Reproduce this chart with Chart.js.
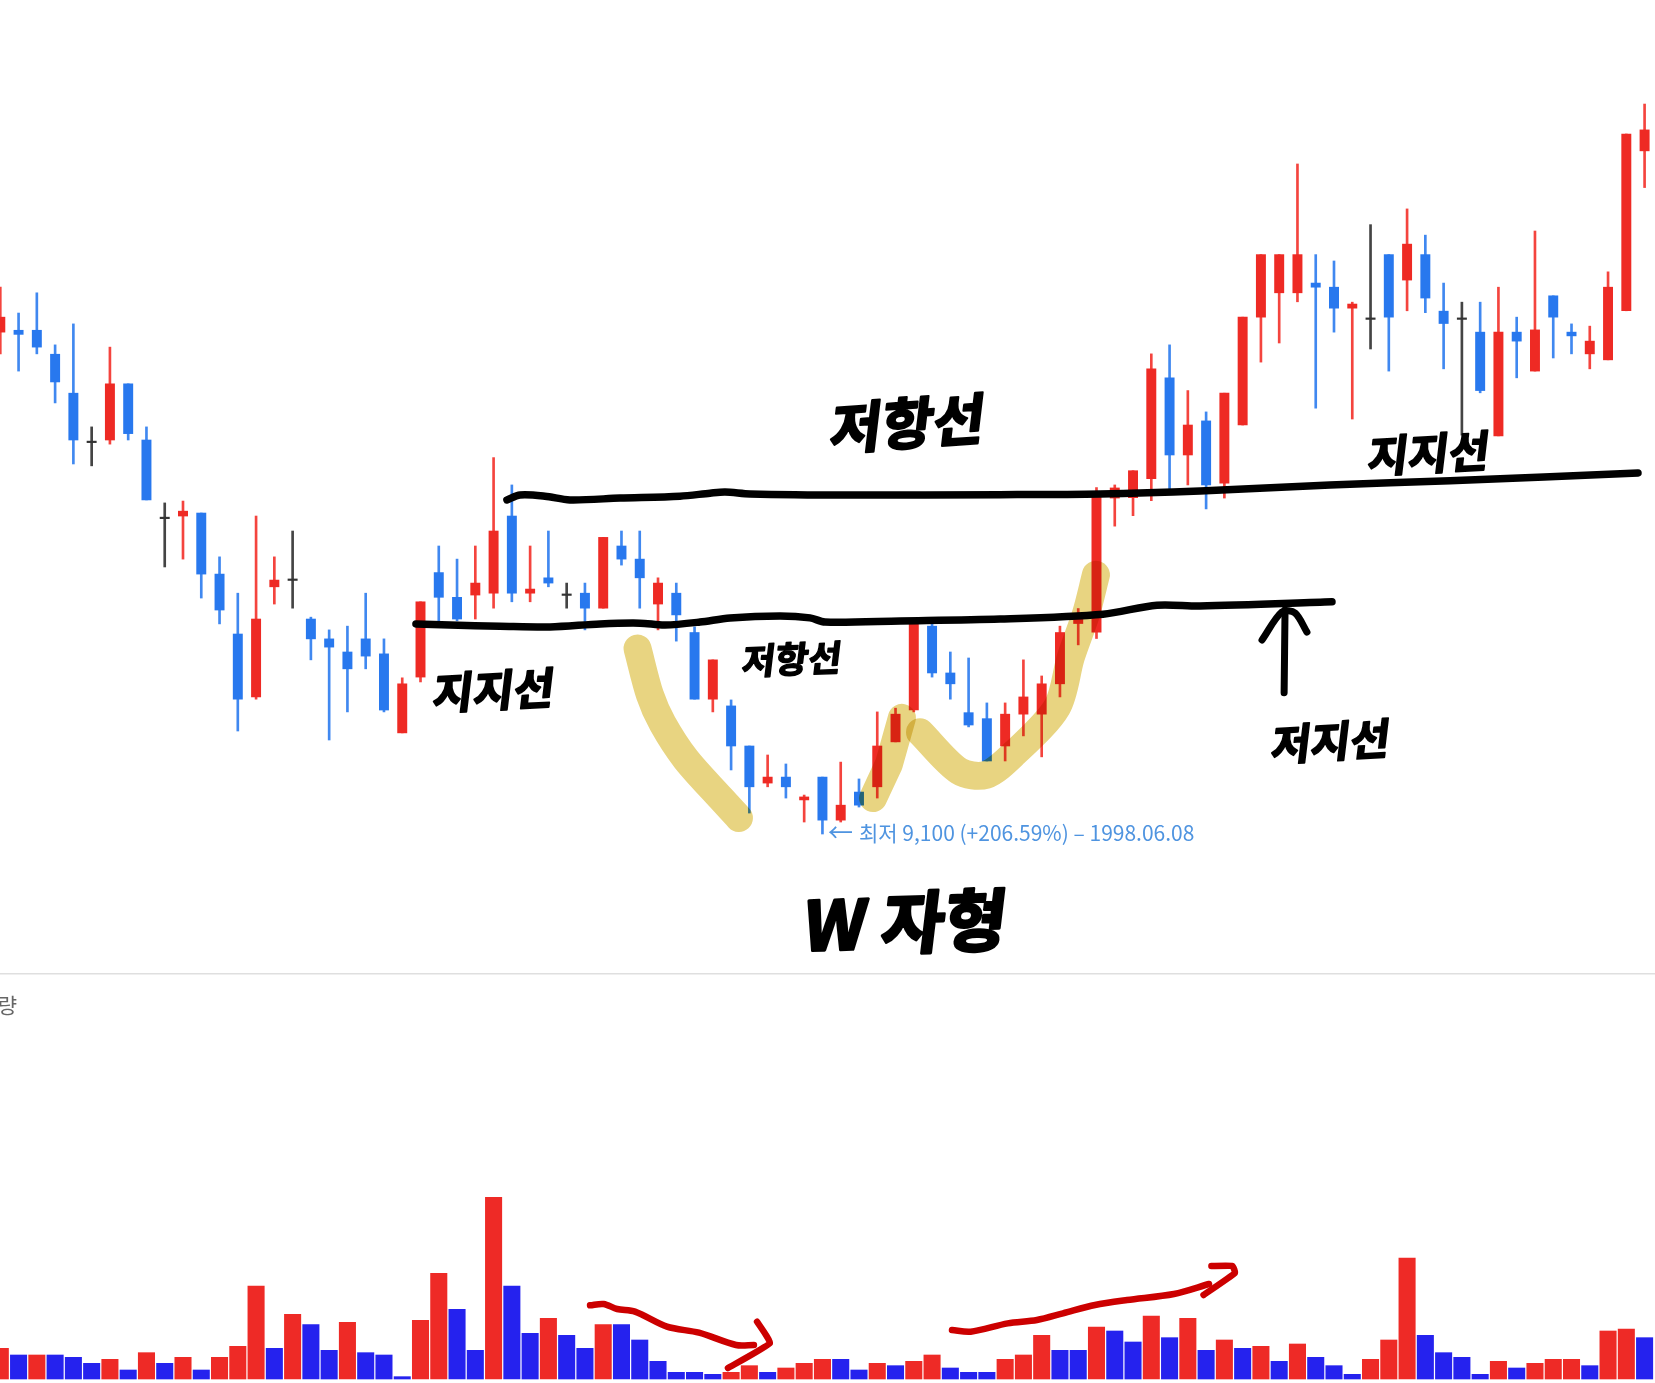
<!DOCTYPE html>
<html lang="ko">
<head>
<meta charset="utf-8">
<title>W 자형 차트</title>
<script src="https://cdn.jsdelivr.net/npm/chart.js@4/dist/chart.umd.min.js"></script>
<style>html,body{margin:0;padding:0;background:#fff;overflow:hidden}canvas{display:block}</style>
</head>
<body>
<canvas id="c" width="1655" height="1383"></canvas>
<script>
// Daily candles (won).
const opens = [22500,22550,22550,21910,20870,19590,19620,21120,19620,17560,17590,17670,16040,14440,12760,15700,15910,14840,14310,13960,14310,13910,11800,13290,16080,15420,15480,15530,17590,15530,15940,15510,15530,15130,16790,16440,15240,15530,14480,12700,12520,11450,10460,10620,10010,10620,9470,10220,10360,11560,12410,14650,13400,12340,12180,11450,12300,12300,13110,14720,14490,18070,18080,18590,21280,19220,20130,18470,20020,22900,23550,23550,23810,23700,23140,22880,24570,23890,24570,23060,22880,22500,19730,22500,21460,23470,22500,21920,21760,23070,27340];
const closes = [22900,22440,22100,21170,19620,19590,21120,19790,18020,17560,17720,16040,15080,12700,14840,15880,15910,14310,14090,13510,13850,12410,13110,15300,15420,14840,15800,17190,15530,15640,15800,15510,15130,17020,16440,15940,15800,14950,12700,13750,11450,10360,10620,10360,10090,9470,9870,9870,11450,12300,14730,13400,13110,12010,11050,12300,12760,13110,14480,14920,18100,18340,18800,21520,19220,20020,18420,20870,22900,24570,24570,24570,23700,23140,23250,22880,22900,24850,23410,22730,22880,20940,22500,22260,22560,22900,22400,22260,23700,27790,27900];
const highs  = [23700,23010,23550,22160,22720,19970,22100,21120,19970,17940,17990,17670,16500,15530,17590,16500,17190,14890,14550,14650,15530,14310,13270,15300,16790,16440,16790,19150,18420,16790,17190,15800,15800,17020,17190,17190,15940,15800,14630,13750,12680,11450,11210,10970,10140,10620,11020,10570,12360,12460,14730,14710,13960,13800,12600,12600,13750,13320,14650,15120,18350,18420,18800,21920,22160,20940,20370,20870,22900,24570,24570,26990,24570,24400,23300,25370,24570,25790,25090,23810,23300,23300,23700,22900,25200,23470,22720,22660,24110,27790,28590];
const lows   = [21920,21460,21920,20610,18980,18930,19510,19620,18020,16230,16440,15400,14710,11850,12700,15240,15130,13750,11610,12360,13510,12360,11800,13160,14730,14790,14840,15130,15300,15300,15700,15130,14550,15130,16280,15130,14550,14250,12700,12360,10810,9660,10360,10060,9420,9100,9420,9820,10060,11560,12360,13290,12700,11960,11050,11050,11720,11160,12760,14150,14320,17320,17600,18000,18260,18420,17780,18070,20020,21700,22210,23310,20470,22500,20180,22050,21460,23070,23020,21520,19750,20880,19730,21280,21460,21810,21920,21520,21760,23070,26360];
const volumes = [92,72,72,72,65,47,59,27,79,47,65,27,65,98,279,92,194,163,86,170,79,72,7,176,317,209,86,545,279,137,182,131,92,163,163,117,53,20,20,14,20,40,20,33,47,59,59,27,47,40,53,72,33,20,20,59,72,131,86,86,156,144,111,189,124,182,86,117,92,98,53,105,65,40,14,59,117,363,131,79,65,14,53,33,47,59,59,40,144,150,124];
const volumeUp = "rbrbbbrbrbrbrrrbrbbrbbbrrbbrbbrbbrbbbbbbrrbrrrbbrbrrbbbrrrbbrbbrbrbrbrbrbbbrrrbbbbrbrrrbrrb";

// Hand-drawn overlay strokes: x = candle index, y = price or volume.
const resistX = [27.73,28.45,29.81,31.18,33.92,37.2,38.85,39.67,41.04,46.51,54.72,60.2,65.67,72.78,79.35,89.64];
const resistY = [18020,18150,18120,18020,18070,18120,18200,18230,18180,18150,18160,18180,18260,18420,18530,18740];
const supportX = [22.75,24.61,27.35,30.09,32.83,35.01,36.38,38.3,39.94,42.68,44.32,45.14,49.25,54.72,60.36,63.31,65.67,72.89];
const supportY = [14710,14680,14650,14630,14710,14730,14680,14760,14870,14920,14870,14760,14790,14840,14970,15210,15190,15300];
const shaftX = [70.27,70.32];
const shaftY = [12870,15080];
const headX = [69.06,70.15,70.87,71.52];
const headY = [14280,15030,15000,14490];
const markerAX = [34.88,35.56,36.25,37.52,39.45,40.43];
const markerAY = [14050,12810,12050,11100,10050,9530];
const markerBX = [47.77,48.64,49.35];
const markerBY = [10060,10970,12200];
const markerCX = [50.34,52.48,53.95,55.49,57.84,58.6,59.42,59.97];
const markerCY = [11820,10780,10680,11250,12490,13830,14970,16020];
const volDownX = [32.28,33.02,33.76,34.74,36.49,38.24,40.27,41.25];
const volDownY = [221,225,210,202,157,139,102,102];
const volDownHeadX = [41.42,42.13,39.83];
const volDownHeadY = [172,108,33];
const volUpX = [52.09,53.11,55.14,56.74,58.17,59.92,61.67,64.24,66.16];
const volUpY = [147,142,167,177,197,222,237,255,285];
const volUpHeadX = [66.29,67.45,67.58,65.86];
const volUpHeadY = [339,339,318,252];

const zip = (xs, ys) => xs.map((x, i) => ({x, y: ys[i]}));
const idx = opens.map((_, i) => i);
const RED = '#ee2a24', BLUE = '#2878ee', DARK = '#333333';
const bodyColor = idx.map(i => closes[i] > opens[i] ? RED : closes[i] < opens[i] ? BLUE : DARK);
const wickColor = idx.map(i => closes[i] > opens[i] ? '#f4443e' : closes[i] < opens[i] ? '#4088f0' : '#444444');

const stroke = (xs, ys, color, width, axis, order, extra) => Object.assign({
  type: 'line', data: zip(xs, ys), borderColor: color, borderWidth: width,
  borderCapStyle: 'round', borderJoinStyle: 'round', pointRadius: 0, tension: 0.3,
  yAxisID: axis, order, fill: false
}, extra || {});

const HAND = '"Noto Sans CJK KR", "Noto Sans", sans-serif';
const notes = [
  {t:'저항선', x:908,  y:423, size:56, rot:-0.07},
  {t:'지지선', x:494,  y:690, size:44, rot:-0.05},
  {t:'저항선', x:792,  y:659, size:36, rot:-0.04},
  {t:'W 자형', x:906,  y:922, size:68, rot:-0.03},
  {t:'지지선', x:1429, y:453, size:44, rot:-0.05},
  {t:'저지선', x:1331, y:741, size:43, rot:-0.06}
];

const paperPlugin = {
  id: 'paper',
  beforeDatasetsDraw(chart) {
    const c = chart.ctx;
    c.save();
    c.fillStyle = '#dfdfdf';
    c.fillRect(0, 973, 1655, 1.5);
    c.fillStyle = '#666666';
    c.font = '400 21px ' + HAND;
    c.textAlign = 'right';
    c.textBaseline = 'middle';
    c.fillText('거래량', 17, 1005);
    c.restore();
  },
  beforeDatasetDraw(chart, args) {
    if (chart.data.datasets[args.index].multiply) {
      chart.ctx.save();
      chart.ctx.globalCompositeOperation = 'multiply';
    }
  },
  afterDatasetDraw(chart, args) {
    if (chart.data.datasets[args.index].multiply) chart.ctx.restore();
  },
  afterDatasetsDraw(chart) {
    const c = chart.ctx;
    c.save();
    c.textAlign = 'left';
    c.textBaseline = 'middle';
    c.fillStyle = '#4f94e0';
    c.font = '400 25px ' + HAND;
    c.fillText('←', 828, 832);
    c.font = '400 21px ' + HAND;
    c.fillText('최저 9,100 (+206.59%) – 1998.06.08', 859, 833);
    c.textAlign = 'center';
    c.fillStyle = '#000';
    c.strokeStyle = '#000';
    c.lineJoin = 'round';
    for (const n of notes) {
      c.save();
      c.translate(n.x, n.y);
      c.transform(1, n.rot, -0.12, 1, 0, 0);
      c.font = '700 ' + n.size + 'px ' + HAND;
      c.lineWidth = Math.max(1.5, n.size / 24);
      c.strokeText(n.t, 0, 0);
      c.fillText(n.t, 0, 0);
      c.restore();
    }
    c.restore();
  }
};

new Chart(document.getElementById('c'), {
  type: 'bar',
  plugins: [paperPlugin],
  data: {
    datasets: [
      { label:'거래량', data: zip(idx, volumes), yAxisID:'vol', barThickness:16.4, order:9,
        backgroundColor: idx.map(i => volumeUp[i] === 'r' ? '#ee2a26' : '#2522ee') },
      { label:'고저', data: idx.map(i => ({x:i, y:[lows[i], highs[i]]})), yAxisID:'price', barThickness:2, order:8,
        backgroundColor: wickColor },
      { label:'시가·종가', data: idx.map(i => ({x:i, y:[opens[i], closes[i]]})), yAxisID:'price', barThickness:9.3, minBarLength:1.5, order:7,
        backgroundColor: bodyColor },
      stroke(markerAX, markerAY, '#e8d481', 28, 'price', 6, {multiply:true}),
      stroke(markerBX, markerBY, '#e8d481', 28, 'price', 5, {multiply:true, tension:0}),
      stroke(markerCX, markerCY, '#e8d481', 28, 'price', 4, {multiply:true}),
      stroke(resistX, resistY, '#000', 7.5, 'price', 3),
      stroke(supportX, supportY, '#000', 7.5, 'price', 3),
      stroke(shaftX, shaftY, '#000', 7, 'price', 3),
      stroke(headX, headY, '#000', 7, 'price', 3),
      stroke(volDownX, volDownY, '#cc0000', 6.5, 'vol', 2),
      stroke(volDownHeadX, volDownHeadY, '#cc0000', 6.5, 'vol', 2, {tension:0.1}),
      stroke(volUpX, volUpY, '#cc0000', 6.5, 'vol', 2),
      stroke(volUpHeadX, volUpHeadY, '#cc0000', 6.5, 'vol', 2, {tension:0.1})
    ]
  },
  options: {
    responsive: false,
    animation: false,
    events: [],
    layout: { padding: 0 },
    datasets: { bar: { grouped: false, borderWidth: 0 } },
    plugins: { legend: { display:false }, tooltip: { enabled:false }, title: { display:false } },
    scales: {
      x: { type:'linear', display:false, min:-0.0164, max:90.57, offset:false, grid:{display:false} },
      price: { type:'linear', display:false, position:'left', min:-5558, max:31368, grid:{display:false} },
      vol: { type:'linear', display:false, position:'right', min:-12, max:4137, grid:{display:false} }
    }
  }
});
</script>
</body>
</html>
